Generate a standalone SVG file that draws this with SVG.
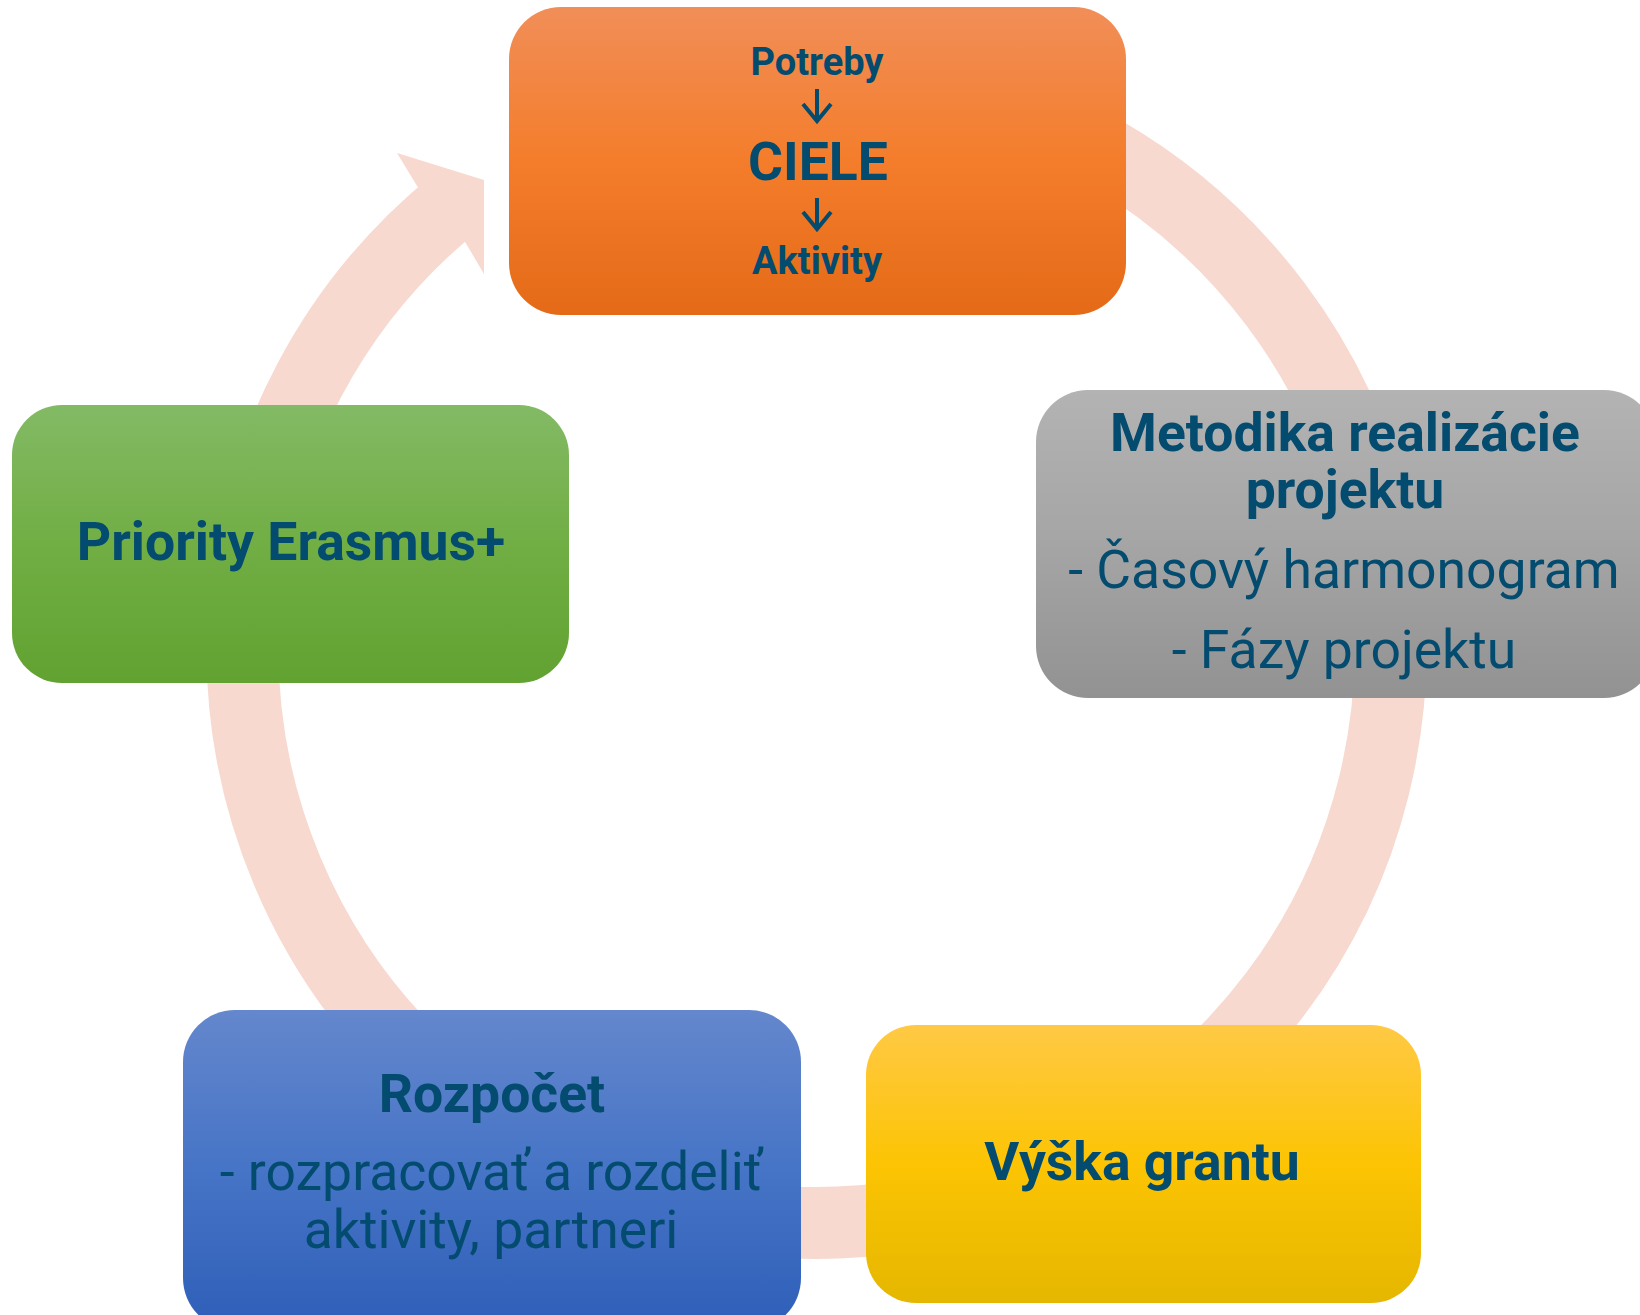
<svg xmlns="http://www.w3.org/2000/svg" width="1640" height="1315" viewBox="0 0 1640 1315">
  <defs>
    <linearGradient id="gOrange" x1="0" y1="0" x2="0" y2="1">
      <stop offset="0" stop-color="#f18e58"/>
      <stop offset="0.5" stop-color="#f47d2b"/>
      <stop offset="1" stop-color="#e46a17"/>
    </linearGradient>
    <linearGradient id="gGray" x1="0" y1="0" x2="0" y2="1">
      <stop offset="0" stop-color="#b3b3b3"/>
      <stop offset="0.5" stop-color="#a5a5a5"/>
      <stop offset="1" stop-color="#929292"/>
    </linearGradient>
    <linearGradient id="gGreen" x1="0" y1="0" x2="0" y2="1">
      <stop offset="0" stop-color="#83ba65"/>
      <stop offset="0.5" stop-color="#71ae44"/>
      <stop offset="1" stop-color="#61a231"/>
    </linearGradient>
    <linearGradient id="gBlue" x1="0" y1="0" x2="0" y2="1">
      <stop offset="0" stop-color="#6487cd"/>
      <stop offset="0.5" stop-color="#4674c6"/>
      <stop offset="1" stop-color="#2e5eb8"/>
    </linearGradient>
    <linearGradient id="gYellow" x1="0" y1="0" x2="0" y2="1">
      <stop offset="0" stop-color="#ffc945"/>
      <stop offset="0.5" stop-color="#fcc403"/>
      <stop offset="1" stop-color="#e5b700"/>
    </linearGradient>
  </defs>
  <style>
    .t { font-family: Roboto, "Liberation Sans", sans-serif; fill: #034b6f; text-anchor: middle; }
    .b { font-weight: 700; }
    .r { font-weight: 400; }
    .ring { fill: none; stroke: #f7d9cf; stroke-width: 72; }
    .head { fill: #f7d9cf; }
    .ar { fill: none; stroke: #034b6f; stroke-width: 4; }
  </style>
  <g id="connectors">
    <path class="ring" d="M 1103.5 151.9 A 574 574 0 1 1 455.3 202.9"/>
    <polygon class="head" points="417.9,187.2 397,153 484,180 484,274 465,241.7"/>
  </g>
  <g id="node-ciele">
    <rect x="509" y="7" width="617" height="308" rx="52" ry="52" fill="url(#gOrange)"/>
    <text class="t b" x="817" y="75" font-size="38">Potreby</text>
    <path class="ar" d="M817 89 V120 M803 104 L817 121 L831 104"/>
    <text class="t b" x="818" y="180" font-size="53.5">CIELE</text>
    <path class="ar" d="M817 198 V228 M803 212 L817 229 L831 212"/>
    <text class="t b" x="817" y="274" font-size="38">Aktivity</text>
  </g>
  <g id="node-metodika">
    <rect x="1036" y="390" width="620" height="308" rx="52" ry="52" fill="url(#gGray)"/>
    <text class="t b" x="1345" y="451" font-size="53.5">Metodika realizácie</text>
    <text class="t b" x="1345" y="508" font-size="53.5">projektu</text>
    <text class="t r" x="1344" y="588" font-size="53.5">- Časový harmonogram</text>
    <text class="t r" x="1344" y="668" font-size="53.5">- Fázy projektu</text>
  </g>
  <g id="node-grant">
    <rect x="866" y="1025" width="555" height="278" rx="50" ry="50" fill="url(#gYellow)"/>
    <text class="t b" x="1142" y="1180" font-size="53.5">Výška grantu</text>
  </g>
  <g id="node-rozpocet">
    <rect x="183" y="1010" width="618" height="320" rx="52" ry="52" fill="url(#gBlue)"/>
    <text class="t b" x="492" y="1112" font-size="53.5">Rozpočet</text>
    <text class="t r" x="491" y="1190" font-size="53.5">- rozpracovať a rozdeliť</text>
    <text class="t r" x="491" y="1248" font-size="53.5">aktivity, partneri</text>
  </g>
  <g id="node-priority">
    <rect x="12" y="405" width="557" height="278" rx="50" ry="50" fill="url(#gGreen)"/>
    <text class="t b" x="291" y="560" font-size="53.5">Priority Erasmus+</text>
  </g>
</svg>
